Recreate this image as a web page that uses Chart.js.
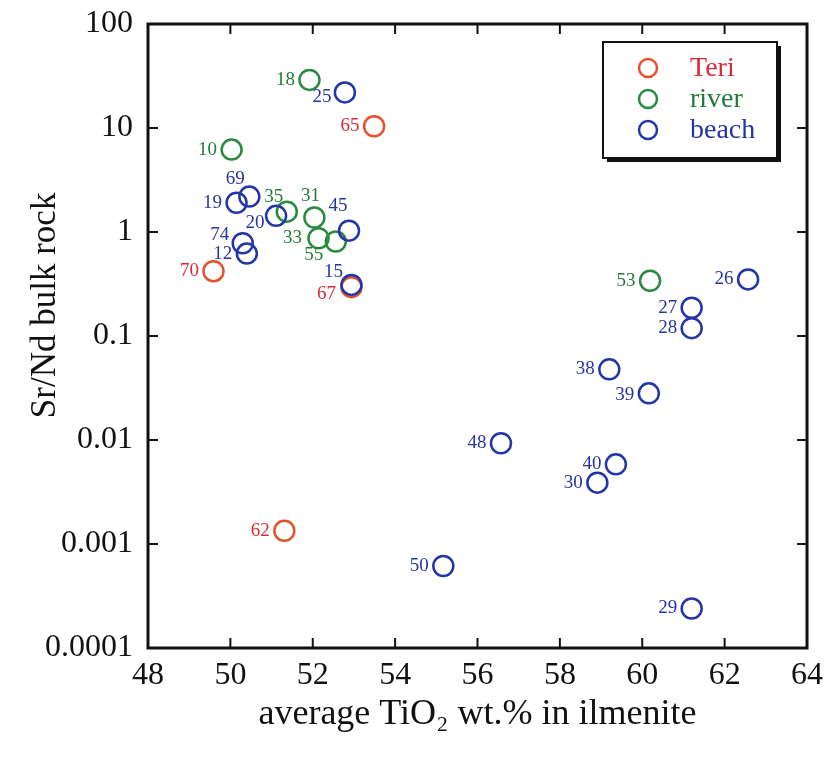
<!DOCTYPE html>
<html>
<head>
<meta charset="utf-8">
<script src="https://cdn.jsdelivr.net/npm/chart.js@4.4.0/dist/chart.umd.min.js"></script>
<style>
    html, body { margin: 0; padding: 0; background: #fff; }
    #wrap { width: 825px; height: 758px; }
</style>
</head>
<body>
<div id="wrap"><canvas id="chart" width="825" height="758"></canvas></div>
<script>
// Sample numbers, average TiO2 in ilmenite (wt.%) and bulk rock Sr/Nd, per group
const teriIds = ['65', '70', '67', '62'];
const teriTiO2 = [53.49, 49.59, 52.94, 51.31];
const teriSrNd = [10.4, 0.42, 0.295, 0.00134];

const riverIds = ['18', '10', '35', '31', '33', '55', '53'];
const riverTiO2 = [51.92, 50.03, 51.37, 52.04, 52.14, 52.56, 60.19];
const riverSrNd = [29, 6.2, 1.57, 1.38, 0.87, 0.81, 0.34];

const beachIds = ['25', '69', '19', '20', '45', '74', '12', '15', '26', '27', '28', '38', '39', '48', '40', '30', '50', '29'];
const beachTiO2 = [52.78, 50.46, 50.15, 51.11, 52.88, 50.30, 50.40, 52.94, 62.57, 61.2, 61.2, 59.2, 60.16, 56.57, 59.36, 58.91, 55.17, 61.2];
const beachSrNd = [22, 2.19, 1.91, 1.43, 1.03, 0.78, 0.62, 0.31, 0.35, 0.187, 0.119, 0.0478, 0.0281, 0.0093, 0.00583, 0.00389, 0.000614, 0.00024];

const xTicks = [48, 50, 52, 54, 56, 58, 60, 62, 64];
const yTicks = [0.0001, 0.001, 0.01, 0.1, 1, 10, 100];
const yTickLabels = ['0.0001', '0.001', '0.01', '0.1', '1', '10', '100'];

const SERIF = '"Liberation Serif", "Times New Roman", serif';

// where each number label sits relative to its circle (px), default is left of it
const labelNudge = {
    '25': [-23, 5], '69': [-14, -18], '35': [-13, -15], '20': [-21, 7], '31': [-4, -21],
    '45': [-11, -25], '33': [-26, 0], '55': [-22, 13], '74': [-23, -8], '15': [-18, -13],
    '67': [-25, 7], '39': [-24, 2]
};

const toPoints = (xs, ys) => xs.map((x, i) => ({x: x, y: ys[i]}));

const groups = [
    {label: 'Teri', ids: teriIds, data: toPoints(teriTiO2, teriSrNd), color: '#e4532e', text: '#d92a3a', order: 2},
    {label: 'river', ids: riverIds, data: toPoints(riverTiO2, riverSrNd), color: '#2b8a3f', text: '#237a35', order: 1},
    {label: 'beach', ids: beachIds, data: toPoints(beachTiO2, beachSrNd), color: '#2236a8', text: '#2436a0', order: 0}
];

const framePlugin = {
    id: 'framePlugin',
    afterDatasetsDraw(chart) {
        const {ctx, chartArea: a, scales: {x, y}} = chart;
        ctx.save();

        // number labels next to the circles
        ctx.font = '19px ' + SERIF;
        ctx.textAlign = 'center';
        ctx.textBaseline = 'middle';
        chart.data.datasets.forEach((ds, di) => {
            ctx.fillStyle = ds.textColor;
            chart.getDatasetMeta(di).data.forEach((pt, i) => {
                const id = ds.ids[i];
                const nudge = labelNudge[id] || [-24, 0];
                ctx.fillText(id, pt.x + nudge[0], pt.y + nudge[1]);
            });
        });

        // inward ticks on all four sides
        const line = (x1, y1, x2, y2) => {
            ctx.beginPath();
            ctx.moveTo(x1, y1);
            ctx.lineTo(x2, y2);
            ctx.stroke();
        };
        ctx.strokeStyle = '#111';
        ctx.lineWidth = 2;
        xTicks.slice(1, -1).forEach(v => {
            const px = x.getPixelForValue(v);
            line(px, a.bottom, px, a.bottom - 10);
            line(px, a.top, px, a.top + 10);
        });
        yTicks.slice(1, -1).forEach(v => {
            const py = y.getPixelForValue(v);
            line(a.left, py, a.left + 10, py);
            line(a.right, py, a.right - 10, py);
        });

        // frame
        ctx.lineWidth = 3;
        ctx.strokeRect(a.left, a.top, a.right - a.left, a.bottom - a.top);

        // legend box with drop shadow
        const bx = a.right - 204, by = a.top + 18, bw = 174, bh = 116;
        ctx.fillStyle = '#111';
        ctx.fillRect(bx + 4, by + 4, bw, bh);
        ctx.fillStyle = '#fff';
        ctx.fillRect(bx, by, bw, bh);
        ctx.lineWidth = 2;
        ctx.strokeRect(bx, by, bw, bh);

        ctx.font = '28px ' + SERIF;
        ctx.textAlign = 'left';
        chart.data.datasets.forEach((ds, di) => {
            const cy = by + 26 + di * 31;
            ctx.strokeStyle = ds.borderColor;
            ctx.lineWidth = 2.5;
            ctx.beginPath();
            ctx.arc(bx + 45, cy, 9, 0, Math.PI * 2);
            ctx.stroke();
            ctx.fillStyle = ds.legendColor;
            ctx.fillText(ds.label, bx + 87, cy + 1);
        });

        ctx.restore();
    }
};

new Chart(document.getElementById('chart'), {
    type: 'scatter',
    data: {
        datasets: groups.map(g => ({
            label: g.label,
            ids: g.ids,
            data: g.data,
            order: g.order,
            borderColor: g.color,
            backgroundColor: 'rgba(0,0,0,0)',
            textColor: g.text,
            legendColor: g.text,
            pointRadius: 10,
            pointBorderWidth: 2.5
        }))
    },
    options: {
        responsive: false,
        animation: false,
        events: [],
        layout: {padding: {top: 24, right: 18, left: 0, bottom: 0}},
        plugins: {
            legend: {display: false},
            tooltip: {enabled: false}
        },
        scales: {
            x: {
                type: 'linear',
                min: 48,
                max: 64,
                afterBuildTicks: s => { s.ticks = xTicks.map(v => ({value: v})); },
                afterFit: s => {
                    s.height = 110;
                    s.paddingLeft = 0;
                    s.paddingRight = 0;
                },
                grid: {display: false, drawTicks: false},
                border: {display: false},
                ticks: {color: '#111', font: {family: SERIF, size: 32}, padding: 8, maxRotation: 0, autoSkip: false},
                title: {
                    display: true,
                    text: 'average TiO\u2082 wt.% in ilmenite',
                    color: '#111',
                    font: {family: SERIF, size: 36},
                    padding: {top: 0, bottom: 22}
                }
            },
            y: {
                type: 'logarithmic',
                min: 0.0001,
                max: 100,
                afterBuildTicks: s => { s.ticks = yTicks.map(v => ({value: v})); },
                afterFit: s => {
                    s.width = 148;
                    s.paddingTop = 0;
                    s.paddingBottom = 0;
                },
                grid: {display: false, drawTicks: false},
                border: {display: false},
                ticks: {
                    color: '#111',
                    font: {family: SERIF, size: 32},
                    padding: 15,
                    autoSkip: false,
                    callback: (v, i) => yTickLabels[i]
                },
                title: {
                    display: true,
                    // leading spaces lift the title a little above the axis middle, as in the original
                    text: '\u00a0\u00a0\u00a0\u00a0\u00a0\u00a0\u00a0Sr/Nd bulk rock',
                    color: '#111',
                    font: {family: SERIF, size: 35},
                    padding: {top: 25, bottom: 0}
                }
            }
        }
    },
    plugins: [framePlugin]
});
</script>
</body>
</html>
